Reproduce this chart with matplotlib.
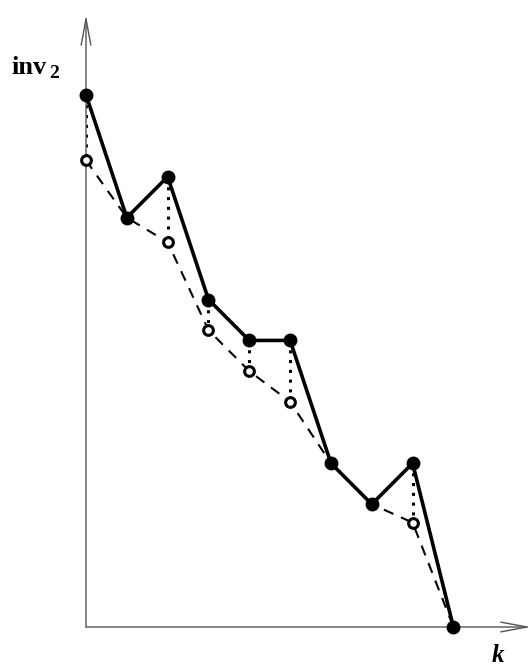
"""Solid vs dashed inv2 staircase sketch"""

import numpy as np
import matplotlib.pyplot as plt

K = [0, 1, 2, 3, 4, 5, 6, 7, 8, 9]
INV_SOLID = [13, 10, 11, 8, 7, 7, 4, 3, 4, 0]
INV_DASHED = [11.4, 10, 9.4, 7.25, 6.25, 5.5, 4, 3, 2.55, 0]
DROP_AT = [0, 2, 3, 4, 5, 8]

X_MAX = 10.9
Y_MAX = 14.95

fig = plt.figure(figsize=(5.31, 6.68), dpi=100)
ax = fig.add_axes([86 / 531, 41 / 668, 445 / 531, 612 / 668])
ax.set_xlim(0, X_MAX)
ax.set_ylim(0, Y_MAX)
ax.axis("off")

# axes with open arrow heads
arrow = dict(arrowstyle="->,head_length=1.9,head_width=0.35", color="#555555", lw=1.0,
             shrinkA=0, shrinkB=0)
ax.annotate("", xy=(X_MAX, 0), xytext=(0, 0), arrowprops=arrow, annotation_clip=False)
ax.annotate("", xy=(0, Y_MAX), xytext=(0, 0), arrowprops=arrow, annotation_clip=False)

k = np.array(K)
solid = np.array(INV_SOLID)
dashed = np.array(INV_DASHED)

for i in DROP_AT:
    ax.plot([k[i], k[i]], [solid[i], dashed[i]], color="black", lw=2.2,
            linestyle=(0, (1, 2.2)), zorder=2)

ax.plot(k, dashed, color="black", lw=1.5, linestyle=(0, (5, 4)), zorder=2)
ax.plot(k[DROP_AT], dashed[DROP_AT], "o", color="black", mfc="white", mew=2.2,
        markersize=7, zorder=3, clip_on=False)
ax.plot(k, solid, color="black", lw=2.6, marker="o", markersize=9, zorder=4,
        clip_on=False)

serif = ["Liberation Serif", "DejaVu Serif"]
fig.text(11 / 531, 1 - 74 / 668, "inv", fontsize=19, fontweight="bold",
         family=serif, va="baseline", ha="left")
fig.text(49 / 531, 1 - 78 / 668, "2", fontsize=14, fontweight="bold",
         family=serif, va="baseline", ha="left")
fig.text(492 / 531, 1 - 662 / 668, "k", fontsize=18, fontweight="bold",
         style="italic", family=serif, va="baseline", ha="left")

fig.savefig("out.png", dpi=100)
